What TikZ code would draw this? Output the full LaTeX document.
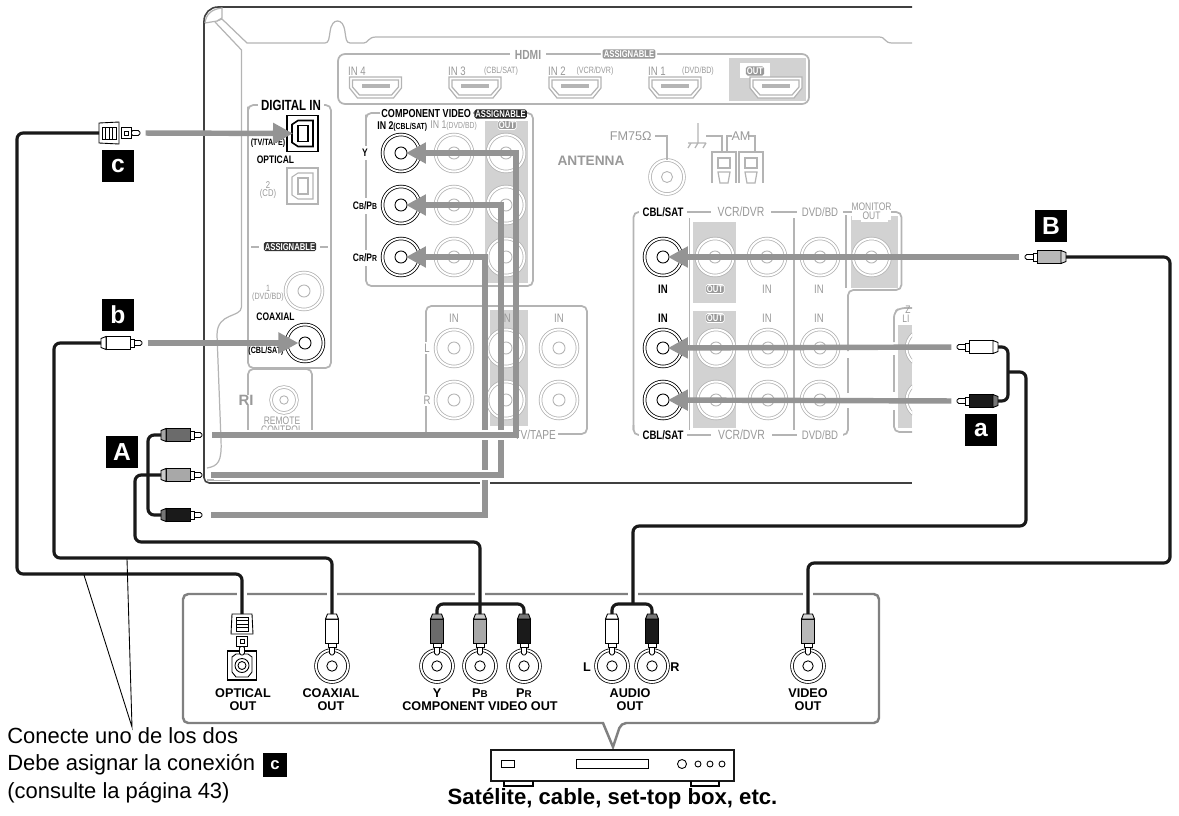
\documentclass[tikz,border=0pt]{standalone}
\usepackage{fontspec}
\usetikzlibrary{arrows.meta}
\setmainfont{Liberation Sans}
\newfontfamily\panelfont[FakeStretch=0.78]{Liberation Sans}
\definecolor{feedgray}{HTML}{949494}
\definecolor{panelgray}{HTML}{B4B4B4}
\definecolor{stripgray}{HTML}{D2D2D2}
\definecolor{boxgray}{HTML}{808080}
\definecolor{plugdark}{HTML}{6B6B6B}
\definecolor{plugmid}{HTML}{A8A8A8}
\definecolor{pluglight}{HTML}{B8B8B8}
\definecolor{plugblack}{HTML}{1A1A1A}

\newcommand{\smcap}[1]{{\fontsize{5}{6}\selectfont #1}}
% jack: optional size, name, x, y, colour
\newcommand{\jack}[5][37]{
\node[circle,draw=#5,fill=white,double=white,double distance=1.1pt,line width=0.45pt,minimum size=#1*0.02cm,inner sep=0] (#2) at (#3,#4) {};
\node[circle,draw=#5,line width=0.5pt,minimum size=#1*0.0065cm,inner sep=0] (#2hub) at (#3,#4) {};
}
\newcommand{\hdmiport}[1]{
\draw[panel,fill=white] (#1-26,77) -- (#1+26,77) -- (#1+26,88) -- (#1+18,98) -- (#1-18,98) -- (#1-26,88) -- cycle;
\draw[panel] (#1-23,80) -- (#1+23,80) -- (#1+23,87) -- (#1+16,95) -- (#1-16,95) -- (#1-23,87) -- cycle;
\fill[panelgray] (#1-14,84) rectangle (#1+14,88);
}
\newcommand{\optport}[4]{
\node[rectangle,draw=#4,line width=#3,fill=white,minimum width=31*0.02cm,minimum height=36*0.02cm,inner sep=0] (#1) at (302.5,#2) {};
\draw[draw=#4,line width=#3] (292,#2-9) -- (298,#2-13) -- (313,#2-13) -- (313,#2+13) -- (298,#2+13) -- (292,#2+9) -- cycle;
\draw[draw=#4,line width=#3] (298,#2-8) rectangle (308,#2+8);
}

\tikzset{
  panel/.style={draw=panelgray,line width=0.7pt},
  panelrim/.style={draw=black!75,line width=0.9pt},
  cable/.style={draw=black!90,line width=1.8pt,rounded corners=3.5pt},
  halo/.style={draw=white,line width=5.5pt},
  feed/.style={draw=feedgray,line width=3.1pt,shorten >=2.8pt,shorten <=3.2pt,-{Triangle[length=11.4pt,width=11.4pt]}},
  feedline/.style={draw=feedgray,line width=3.1pt},
  plugline/.style={draw=black,line width=0.5pt},
  blk/.style={inner sep=0,text=black,font=\panelfont\bfseries\fontsize{7}{8}\selectfont},
  blksmall/.style={inner sep=0,text=black,font=\panelfont\bfseries\fontsize{5.2}{6}\selectfont},
  gry/.style={inner sep=0,text=panelgray!85!black,font=\panelfont\fontsize{7}{8}\selectfont},
  grysmall/.style={inner sep=0,text=panelgray!85!black,font=\panelfont\fontsize{5.2}{6}\selectfont},
  outlabel/.style={inner sep=0,align=center,text=black,font=\bfseries\fontsize{7.2}{7.5}\selectfont},
  note/.style={inner sep=0,anchor=west,text=black,font=\fontsize{12.5}{14}\selectfont},
  tagbox/.style={rectangle,fill=black,text=white,inner sep=0,minimum size=32*0.02cm,font=\bfseries\fontsize{14}{14}\selectfont},
  assign/.style={rectangle,rounded corners=1pt,text=white,inner sep=0.6pt,font=\panelfont\bfseries\fontsize{5.6}{6}\selectfont},
  rcaplug/.pic={
    \coordinate (-tip) at (0,0);
    \coordinate (-back) at (-41,0);
    \draw[plugline,fill=white,rounded corners=1pt] (-11,-2.5) rectangle (0,2.5);
    \draw[plugline,fill=white] (-13,-4) rectangle (-8,4);
    \draw[plugline,fill=#1] (-36,-6.5) rectangle (-12,6.5);
    \draw[plugline,fill=#1!60!white] (-41,-4.5) -- (-36,-6.5) -- (-36,6.5) -- (-41,4.5) -- cycle;
  },
  optplug/.pic={
    \coordinate (-tip) at (0,0);
    \coordinate (-back) at (-41,0);
    \draw[plugline,fill=white,rounded corners=1pt] (-9,-2.5) rectangle (0,2.5);
    \draw[plugline,fill=white] (-19,-5.5) rectangle (-9,5.5);
    \draw[plugline] (-16,-2) rectangle (-12,2);
    \draw[plugline,fill=white] (-41,-10) -- (-41,10) -- (-21,11) -- (-21,-11) -- cycle;
    \draw[plugline] (-38,-6) rectangle (-24,6);
    \draw[plugline] (-34.5,-6) -- (-34.5,6) (-31,-6) -- (-31,6) (-27.5,-6) -- (-27.5,6);
  },
}

\begin{document}
\begin{tikzpicture}[x=0.02cm,y=-0.02cm]
\useasboundingbox (0,0) rectangle (1179,815);

% rear panel
\draw[panelrim,rounded corners=8pt] (912,7) -- (204,7) [rounded corners=3pt] -- (204,483) -- (480,483);
\draw[panelrim] (490,483) -- (912,483);
\draw[panel] (205,23) .. controls (206,14) and (212,9) .. (222,8) -- (222,18) -- (217,21) -- (205,23);
\draw[panel] (215,22) -- (241.5,50) -- (241.5,307)
  .. controls (241,318) and (217,312) .. (217,335)
  -- (221,440) .. controls (222,462) and (218,466) .. (207,468);
\draw[panel] (207,480) -- (230,480);
\draw[panel] (217,21) -- (222,19) -- (247,43) -- (325,43) .. controls (329,43) and (329,38) .. (330,32)
  .. controls (331,24) and (334,21) .. (337.5,21) .. controls (341,21) and (344,24) .. (345,32)
  .. controls (346,38) and (346,43) .. (350,43) -- (364,43) .. controls (368,43) and (368,37) .. (376,37)
  -- (879,37) .. controls (886,37) and (884,43) .. (892,43) -- (912,43);

% hdmi
\fill[stripgray] (729,58) rectangle (806,101);
\fill[white] (740,63) rectangle (770,78);
\draw[panel,line width=1pt,rounded corners=4pt] (338,54) rectangle (809,104);
\hdmiport{375.5}
\hdmiport{475}
\hdmiport{575}
\hdmiport{675}
\hdmiport{776}
\node[gry,fill=white,inner xsep=3pt,font=\panelfont\bfseries\fontsize{7.5}{8}\selectfont] (hdmi) at (528,55) {HDMI};
\node[assign,fill=panelgray!85!black,text=white,draw=white,line width=1pt,inner sep=1.2pt] (hdmiassign) at (629,54) {ASSIGNABLE};
\node[gry] (hin4) at (357,71) {IN 4};
\node[gry] (hin3) at (457,71) {IN 3};
\node[grysmall] (hcbl) at (501,71) {(CBL/SAT)};
\node[gry] (hin2) at (557,71) {IN 2};
\node[grysmall] (hvcr) at (595,71) {(VCR/DVR)};
\node[gry] (hin1) at (657,71) {IN 1};
\node[grysmall] (hdvd) at (698,71) {(DVD/BD)};
\node[assign,fill=panelgray!85!black] (hout) at (755,71) {OUT};

% digital in
\draw[panel,line width=1pt,rounded corners=3pt] (248,112) -- (248,105) -- (331,105) -- (331,368) -- (248,368) -- cycle;
\node[blk,fill=white,inner xsep=2pt,font=\panelfont\bfseries\fontsize{8.4}{9}\selectfont] (digin) at (291,105) {DIGITAL IN};
\optport{optin}{133.5}{0.9pt}{black}
\node[blksmall,fill=white] (tvtape) at (268,143) {(TV/TAPE)};
\node[blk,font=\panelfont\bfseries\fontsize{6.2}{7}\selectfont] (optical) at (275.5,160) {OPTICAL};
\optport{optcd}{186}{0.6pt}{panelgray}
\node[grysmall,align=center,font=\panelfont\fontsize{5.6}{5}\selectfont] (cd) at (268,190) {2\\(CD)};
\draw[panel,line width=1pt] (251,246.7) -- (259,246.7) (320,246.7) -- (328,246.7);
\node[assign,fill=black!80] (digassign) at (290,246.7) {ASSIGNABLE};
\jack{coaxdvd}{304}{291}{panelgray}
\node[grysmall,align=center,font=\panelfont\fontsize{5.2}{4.6}\selectfont] (dvdbd) at (268,293) {1\\(DVD/BD)};
\node[blk,font=\panelfont\bfseries\fontsize{6.2}{7}\selectfont] (coaxial) at (275.5,317) {COAXIAL};
\jack{coaxcbl}{305}{343}{black}
\node[blksmall] (coaxsat) at (266,351) {(CBL/SAT)};

% remote control
\draw[panel,line width=1pt,rounded corners=3pt] (248,430) -- (248,369) -- (312,369) -- (312,430);
\node[gry,fill=white,inner xsep=1pt,font=\bfseries\fontsize{8.5}{9}\selectfont] (ri) at (246,400) {RI};
\jack[26]{remote}{284}{400}{panelgray}
\node[grysmall,align=center,font=\panelfont\fontsize{6.2}{4.8}\selectfont,anchor=north] (remotectl) at (282,417) {REMOTE\\CONTROL};
\fill[white] (240,430) rectangle (320,440);

% component video
\fill[stripgray] (485,121) rectangle (528,283);
\draw[panel,line width=1pt,rounded corners=3pt] (366,120) -- (366,113) -- (533,113) -- (533,286) -- (366,286) -- cycle;
\node[assign,fill=black!85,anchor=west] (compassign) at (474,114) {ASSIGNABLE};
\node[blk,fill=white,inner xsep=1pt,anchor=east,font=\panelfont\bfseries\fontsize{6.6}{8}\selectfont] (compvid) at (473,114) {COMPONENT VIDEO};
\node[blk,anchor=west,font=\panelfont\bfseries\fontsize{6.4}{7}\selectfont] (compin2) at (377,126) {IN 2{\fontsize{5}{6}\selectfont(CBL/SAT)}};
\node[gry,anchor=west,font=\panelfont\fontsize{6.4}{7}\selectfont] (compin1) at (430,126) {IN 1{\fontsize{5}{6}\selectfont(DVD/BD)}};
\node[assign,fill=panelgray!85!black,draw=white] (compout) at (507,125) {OUT};
\jack{cy}{401}{153}{black}
\jack{cb}{401}{205}{black}
\jack{cr}{401}{257}{black}
\jack{cy1}{454}{153}{panelgray}
\jack{cb1}{454}{205}{panelgray}
\jack{cr1}{454}{257}{panelgray}
\jack{cy2}{506}{153}{panelgray}
\jack{cb2}{506}{205}{panelgray}
\jack{cr2}{506}{257}{panelgray}
\node[blk,fill=white,inner ysep=2pt,font=\panelfont\bfseries\fontsize{6.2}{7}\selectfont] (ly) at (365,153) {Y};
\node[blk,fill=white,inner ysep=2pt,font=\panelfont\bfseries\fontsize{6.2}{7}\selectfont] (lb) at (365,206) {C\smcap{B}/P\smcap{B}};
\node[blk,fill=white,inner ysep=2pt,font=\panelfont\bfseries\fontsize{6.2}{7}\selectfont] (lr) at (365,258) {C\smcap{R}/P\smcap{R}};

% tv/tape
\fill[stripgray] (490,310) rectangle (528,426);
\draw[panel,line width=1pt,rounded corners=3pt] (426,434) -- (426,306) -- (587,306) -- (587,434) -- (540,434);
\node[gry,fill=white,anchor=east,inner xsep=1pt,font=\panelfont\fontsize{7.4}{8}\selectfont] (tvt) at (558,435) {TV/TAPE};
\node[gry,fill=white,inner sep=1pt] (tl) at (427,348) {L};
\node[gry,fill=white,inner sep=1pt] (tr) at (427,400) {R};
\node[gry] (tin1) at (454,318) {IN};
\node[gry] (tin2) at (506,318) {IN};
\node[gry] (tin3) at (559,318) {IN};
\jack{tl1}{454}{348}{panelgray}
\jack{tr1}{454}{400}{panelgray}
\jack{tl2}{506}{348}{panelgray}
\jack{tr2}{506}{400}{panelgray}
\jack{tl3}{559}{348}{panelgray}
\jack{tr3}{559}{400}{panelgray}

% antenna
\node[gry,font=\bfseries\fontsize{7.8}{9}\selectfont] (antenna) at (591,161) {ANTENNA};
\node[gry,font=\fontsize{7.2}{8}\selectfont,anchor=east] (fm) at (652,136) {FM75Ω};
\jack[34]{fmjack}{667}{177}{panelgray}
\draw[panel] (655,136) -- (667,136) -- (fmjack);
\draw[panel] (698,123) -- (698,142) (688,143) -- (706,143) (691,143) -- (688,148) (698,143) -- (695,148) (706,143) -- (703,148);
\draw[panel] (706,136) -- (722,136) -- (722,152) (732,136) -- (727,136) -- (727,152);
\draw[panel] (748,136) -- (755,136) -- (755,152);
\node[gry,font=\fontsize{7.2}{8}\selectfont] (am) at (741,136) {AM};
\draw[panel] (712,183) -- (712,152) -- (736,152) -- (736,183) (739,183) -- (739,152) -- (763,152) -- (763,183);
\draw[panel] (718,158) rectangle (730,168) (745,158) rectangle (757,168);
\draw[panel] (718,172) -- (730,172) -- (728,183) -- (720,183) -- cycle (745,172) -- (757,172) -- (755,183) -- (747,183) -- cycle;

% right inputs
\begin{scope}
\clip (600,190) rectangle (912,445);
\fill[stripgray] (693,222) rectangle (736,303);
\fill[stripgray] (693,311) rectangle (736,428);
\fill[stripgray] (851,216) rectangle (898,288);
\fill[white] (861,216) rectangle (888,222);
\fill[stripgray] (898,325) rectangle (912,428);
\draw[panel,line width=1pt,rounded corners=3pt] (848,393) -- (848,358);
\draw[panel,line width=1pt,rounded corners=3pt] (633.5,430) -- (633.5,212) -- (901.5,212) -- (901.5,290) -- (848,290) -- (848,351);
\draw[panel,line width=1pt,rounded corners=3pt] (848,408) -- (848,435) -- (633.5,435) -- (633.5,425);
\draw[panel,line width=1pt] (689.5,218) -- (689.5,430) (794,218) -- (794,430) (846,215) -- (846,288);
\draw[panel,line width=1pt,rounded corners=3pt] (894,342) -- (894,312) -- (900,308) -- (912,308);
\draw[panel,line width=1pt] (894,355) -- (894,392);
\draw[panel,line width=1pt,rounded corners=3pt] (894,410) -- (894,432) -- (912,432);
\node[blk,fill=white,inner xsep=2pt] (rcbl) at (663,212) {CBL/SAT};
\node[gry,fill=white,inner xsep=4pt,font=\panelfont\fontsize{7.6}{8}\selectfont] (rvcr) at (741,212) {VCR/DVR};
\node[gry,fill=white,inner xsep=3pt] (rdvd) at (820,212) {DVD/BD};
\node[gry,fill=white,align=center,font=\panelfont\fontsize{6.2}{5.2}\selectfont] (rmon) at (871.5,211.5) {MONITOR\\OUT};
\node[blk,fill=white,inner xsep=2pt] (bcbl) at (663,435) {CBL/SAT};
\node[gry,fill=white,inner xsep=4pt,font=\panelfont\fontsize{7.6}{8}\selectfont] (bvcr) at (741.5,435) {VCR/DVR};
\node[gry,fill=white,inner xsep=3pt] (bdvd) at (820,435) {DVD/BD};
\node[blk] (rin1) at (663,289) {IN};
\node[blk] (rin2) at (663,318) {IN};
\node[assign,fill=panelgray!85!black,draw=white] (rout1) at (715,289) {OUT};
\node[assign,fill=panelgray!85!black,draw=white] (rout2) at (715,318) {OUT};
\node[gry] (rin3) at (767,289) {IN};
\node[gry] (rin4) at (767,318) {IN};
\node[gry] (rin5) at (819,289) {IN};
\node[gry] (rin6) at (819,318) {IN};
\node[gry,font=\panelfont\fontsize{6.2}{7}\selectfont] (zonea) at (908,310) {Z};
\node[gry,font=\panelfont\fontsize{6.2}{7}\selectfont] (zoneb) at (906,318.5) {LI};
\jack{v1}{663}{257}{black}
\jack{v2}{715}{257}{panelgray}
\jack{v3}{767}{257}{panelgray}
\jack{v4}{820}{257}{panelgray}
\jack{v5}{871.5}{257}{panelgray}
\jack{al}{663}{348}{black}
\jack{ar}{663}{400}{black}
\jack{al2}{716}{348}{panelgray}
\jack{ar2}{716}{400}{panelgray}
\jack{al3}{768}{348}{panelgray}
\jack{ar3}{768}{400}{panelgray}
\jack{al4}{820}{348}{panelgray}
\jack{ar4}{820}{400}{panelgray}
\jack{zl}{925}{348}{panelgray}
\jack{zr}{925}{400}{panelgray}
\end{scope}

% source unit
\draw[draw=boxgray,line width=1.4pt,rounded corners=3pt] (183,594) -- (879,594) -- (879,723)
  -- (621,723) [sharp corners] -- (613,747) -- (603,723) [rounded corners=3pt] -- (183,723) -- cycle;
\node[rectangle,draw=black,line width=0.6pt,fill=white,minimum size=29*0.02cm,inner sep=0] (optout) at (242,665.5) {};
\draw[black,line width=0.5pt] (232,657) -- (236,654) -- (248,654) -- (252,657) -- (252,672) -- (248,677) -- (236,677) -- (232,672) -- cycle;
\node[circle,draw=black,line width=0.5pt,minimum size=14*0.02cm,inner sep=0] (optcore) at (242,665.5) {};
\node[circle,draw=black,line width=0.5pt,minimum size=8*0.02cm,inner sep=0] (optcorein) at (242,665.5) {};
\jack[32]{coaxout}{332}{666}{black}
\jack[32]{yout}{437}{666}{black}
\jack[32]{pbout}{480}{666}{black}
\jack[32]{prout}{524}{666}{black}
\jack[32]{lout}{612}{666}{black}
\jack[32]{rout}{652}{666}{black}
\jack[32]{vout}{808}{666}{black}
\node[outlabel] (loptical) at (243,699.5) {OPTICAL\\OUT};
\node[outlabel] (lcoaxial) at (331,699.5) {COAXIAL\\OUT};
\node[outlabel] (lyy) at (437,693) {Y};
\node[outlabel] (lpb) at (480,693) {P{\fontsize{5.6}{6}\selectfont B}};
\node[outlabel] (lpr) at (524,693) {P{\fontsize{5.6}{6}\selectfont R}};
\node[outlabel] (lcomp) at (480,706) {COMPONENT VIDEO OUT};
\node[outlabel] (ll) at (587,667) {L};
\node[outlabel] (lrr) at (675,667) {R};
\node[outlabel] (laudio) at (630,699.5) {AUDIO\\OUT};
\node[outlabel] (lvideo) at (808,699.5) {VIDEO\\OUT};

\node[rectangle,draw=black!90,line width=1pt,fill=white,minimum width=243*0.02cm,minimum height=31*0.02cm,inner sep=0] (settop) at (612.5,765.5) {};
\draw[black,line width=0.6pt] (504,781) -- (504,786) -- (533,786) -- (533,781) (691,781) -- (691,786) -- (719,786) -- (719,781);
\draw[black,line width=0.5pt] (501,760) rectangle (514,767) (576,759) rectangle (648,768);
\draw[black,line width=0.5pt] (682,764) circle (4.5) (698,764) circle (3) (710,764) circle (3) (722,764) circle (3);
\node[inner sep=0,text=black,font=\bfseries\fontsize{12.6}{14}\selectfont] (caption) at (612.5,799) {Satélite, cable, set-top box, etc.};

% feeds, back ones first
\draw[halo] (485,478) -- (485,490);
\draw[feedline] (211,515) -- (485,515) -- (485,440);
\draw[feedline,-{Triangle[length=11.4pt,width=11.4pt]},shorten >=2.8pt] (485,430) -- (485,257) -- (cr.center);
\draw[halo] (214,475) -- (490,475);
\draw[feedline] (211,475) -- (501,475) -- (501,440);
\draw[feedline,-{Triangle[length=11.4pt,width=11.4pt]},shorten >=2.8pt] (501,430) -- (501,205) -- (cb.center);
\draw[feedline,-{Triangle[length=11.4pt,width=11.4pt]},shorten >=2.8pt] (212,435) -- (516,435) -- (516,153) -- (cy.center);

% plugs on the panel side
\pic (plugc) at (140,133) {optplug};
\pic (plugb) at (142,343) {rcaplug=white};
\pic (plugy) at (202,435) {rcaplug=plugdark};
\pic (plugpb) at (202,475) {rcaplug=plugmid};
\pic (plugpr) at (202,515) {rcaplug=plugblack};
\pic[rotate=180] (plugv) at (1025,257) {rcaplug=pluglight};
\pic[rotate=180] (pluga) at (957,347) {rcaplug=white};
\pic[rotate=180] (plugbk) at (957,401) {rcaplug=plugblack};

% plugs on the unit side
\pic[rotate=-90] (sopt) at (242,655) {optplug};
\pic[rotate=-90] (scoax) at (332,655) {rcaplug=white};
\pic[rotate=-90] (sy) at (437,655) {rcaplug=plugdark};
\pic[rotate=-90] (spb) at (480,655) {rcaplug=plugmid};
\pic[rotate=-90] (spr) at (524,655) {rcaplug=plugblack};
\pic[rotate=-90] (sl) at (612,655) {rcaplug=white};
\pic[rotate=-90] (sr) at (652,655) {rcaplug=plugblack};
\pic[rotate=-90] (sv) at (808,655) {rcaplug=pluglight};

\draw[feed,shorten >=5.4pt] (plugc-tip) -- (optin.center);
\draw[feed,shorten >=3.7pt] (plugb-tip) -- (coaxcbl.center);
\draw[feed] (plugv-tip) -- (v1.center);
\draw[feed] (pluga-tip) -- (al.center);
\draw[feed] (plugbk-tip) -- (ar.center);

% cables
\draw[halo] (242,586) -- (242,600);
\draw[halo] (332,586) -- (332,600);
\draw[halo] (480,586) -- (480,600);
\draw[halo] (633,586) -- (633,600);
\draw[halo] (808,586) -- (808,600);
\draw[cable] (plugc-back) -- (17,133) -- (17,574) -- (242,574) -- (sopt-back);
\draw[cable] (plugb-back) -- (54,343) -- (54,558) -- (332,558) -- (scoax-back);
\draw[cable] (plugy-back) -- (148,435) -- (148,515) -- (plugpr-back);
\draw[cable] (plugpb-back) -- (135,475) -- (135,542) -- (480,542) -- (spb-back);
\draw[cable] (sy-back) -- (437,604) -- (524,604) -- (spr-back);
\draw[cable] (plugv-back) -- (1170,257) -- (1170,563) -- (808,563) -- (sv-back);
\draw[cable] (pluga-back) -- (1008,347) -- (1008,401) -- (plugbk-back);
\draw[cable] (1008,372) -- (1026,372) -- (1026,526) -- (633,526) -- (633,604);
\draw[cable] (sl-back) -- (612,604) -- (652,604) -- (sr-back);

% note
\coordinate (leadtip) at (132,727);
\coordinate (leadc) at (84,575);
\coordinate (leadb) at (127,559);
\draw[black,line width=0.5pt] (leadc) -- (leadtip) -- (leadb);
\node[note] (note1) at (7,736) {Conecte uno de los dos};
\node[note] (note2) at (7,765) {Debe asignar la conexión};
\node[note] (note3) at (7,793) {(consulte la página 43)};
\node[tagbox,minimum size=24*0.02cm,font=\bfseries\fontsize{9.5}{10}\selectfont] (tagsmall) at (275,765) {c};

\node[tagbox] (tagc) at (118,166) {c};
\node[tagbox] (tagb) at (118,315) {b};
\node[tagbox] (tagA) at (122,452) {A};
\node[tagbox] (taga) at (981,430) {a};
\node[tagbox] (tagB) at (1051,226) {B};
\end{tikzpicture}
\end{document}
